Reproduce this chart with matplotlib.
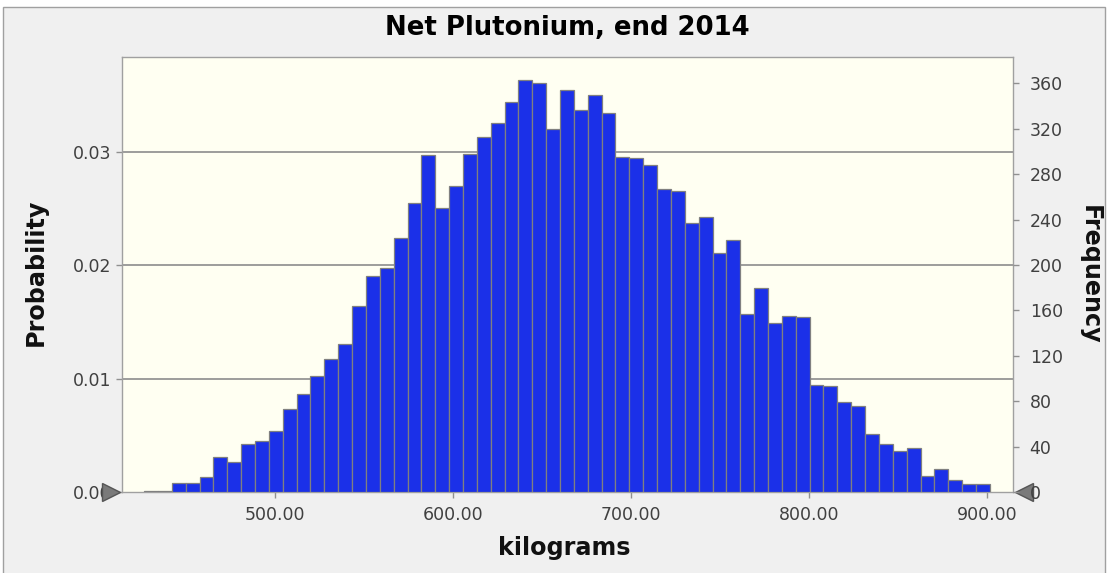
import numpy as np
import matplotlib
matplotlib.use("Agg")
import matplotlib.pyplot as plt
from matplotlib.patches import Rectangle

# ---- data ----
counts = [1, 1, 8, 8, 13, 31, 26, 42, 45, 54,
          73, 86, 102, 117, 130, 164, 190, 197, 224, 255,
          297, 250, 270, 298, 313, 325, 344, 363, 360, 320,
          354, 337, 350, 334, 295, 294, 288, 267, 265, 237,
          242, 211, 222, 157, 180, 149, 155, 154, 94, 93,
          79, 76, 51, 42, 36, 39, 14, 20, 11, 7, 7]
trials = 10000
bin_start = 426.4
bin_width = 7.79
x_ticks = [500, 600, 700, 800, 900]
prob_ticks = [0.0, 0.01, 0.02, 0.03]
freq_ticks = list(range(0, 361, 40))
title = "Net Plutonium, end 2014"

counts = np.array(counts)
probs = counts / trials
edges = bin_start + bin_width * np.arange(len(counts) + 1)

W, H = 1109, 573
fig = plt.figure(figsize=(W / 100, H / 100), dpi=100, facecolor="white")
fig.patches.append(Rectangle((3 / W, -0.01), (1105 - 3) / W, (H - 7) / H + 0.01,
                             transform=fig.transFigure, facecolor="#f0f0f0",
                             edgecolor="#a0a0a0", linewidth=1.0, zorder=-10))

left, right, top, bottom = 122, 1013, 57.3, 492
ax = fig.add_axes([left / W, (H - bottom) / H, (right - left) / W, (bottom - top) / H])
ax.set_facecolor("#fffff2")
ymax = 0.03 + (151.5 - top) / 113.5 * 0.01

ax.bar(edges[:-1], probs, width=bin_width, align="edge", color="#1b30e8",
       edgecolor="#808080", linewidth=0.9, zorder=3)

ax.set_xlim(414.0, 914.6)
ax.set_ylim(0, ymax)
for v in prob_ticks[1:]:
    ax.axhline(v, color="#8c8c8c", linewidth=1.2, zorder=1)

ax.set_xticks(x_ticks)
ax.set_xticklabels([f"{v:.2f}" for v in x_ticks])
ax.set_yticks(prob_ticks)
ax.set_yticklabels([f"{v:.2f}" for v in prob_ticks])
ax.tick_params(axis="both", colors="#909090", labelcolor="#404040", labelsize=12.5,
               length=4, width=1, direction="out")
ax.tick_params(axis="x", pad=6)

for s in ax.spines.values():
    s.set_color("#a0a0a0")
    s.set_linewidth(1.0)

ax2 = ax.twinx()
ax2.set_ylim(0, ymax * trials)
ax2.set_yticks(freq_ticks)
ax2.tick_params(axis="y", colors="#909090", labelcolor="#404040", labelsize=12.5,
                length=4, width=1, direction="out", pad=8)
for s in ax2.spines.values():
    s.set_visible(False)

fig.text(567 / W, 1 - 28 / H, title, ha="center", va="center",
         fontsize=18.7, fontweight="bold", color="black", family="DejaVu Sans")
fig.text(564 / W, 1 - 548 / H, "kilograms", ha="center", va="center",
         fontsize=17.2, fontweight="bold", color="#111111", family="DejaVu Sans")
fig.text(36 / W, 1 - 272 / H, "Probability", ha="center", va="center", rotation=90,
         fontsize=17.2, fontweight="bold", color="#111111", family="DejaVu Sans")
fig.text(1090 / W, 1 - 275 / H, "Frequency", ha="center", va="center", rotation=-90,
         fontsize=17.2, fontweight="bold", color="#111111", family="DejaVu Sans")

# slider handles at the baseline
ax.plot([-0.012], [0], marker=">", markersize=13, color="#7a7a7a",
        markeredgecolor="#555555", transform=ax.transAxes, clip_on=False, zorder=5)
ax.plot([1.012], [0], marker="<", markersize=13, color="#7a7a7a",
        markeredgecolor="#555555", transform=ax.transAxes, clip_on=False, zorder=5)

fig.savefig("out.png", dpi=100, facecolor=fig.get_facecolor())
